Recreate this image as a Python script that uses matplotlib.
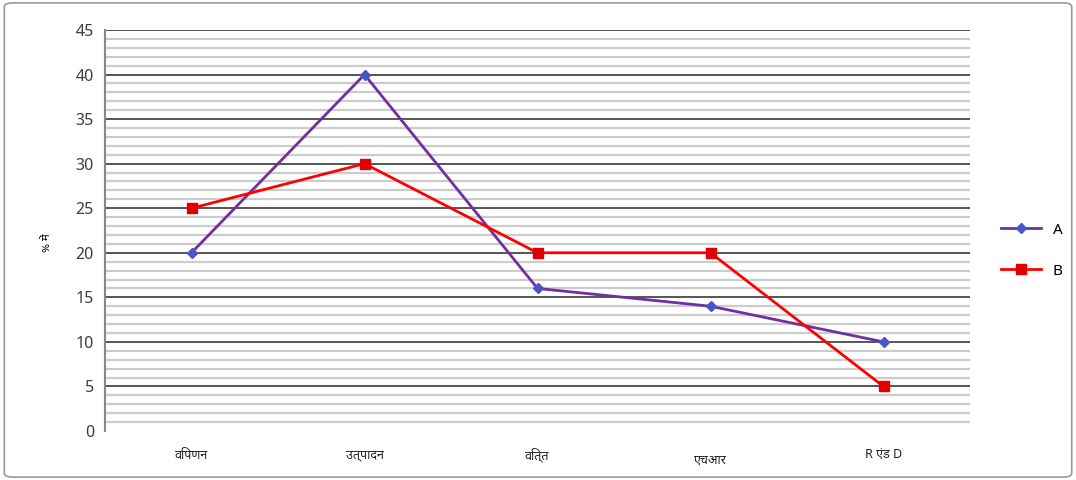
import matplotlib

matplotlib.use("Agg")
import matplotlib.pyplot as plt
from matplotlib import font_manager
from matplotlib.patches import FancyBboxPatch

categories = ["विपणन", "उत्पादन", "वित्त", "एचआर", "R एंड D"]
series_a = [20, 40, 16, 14, 10]
series_b = [25, 30, 20, 20, 5]
y_ticks = list(range(0, 50, 5))

# pick a font that can draw Devanagari, if one is installed
names = {f.name for f in font_manager.fontManager.ttflist}
deva = [n for n in ["Noto Sans Devanagari", "Lohit Devanagari", "Mangal", "FreeSans", "Noto Sans"] if n in names]
plt.rcParams["font.family"] = deva + ["DejaVu Sans"]

fig = plt.figure(figsize=(10.76, 4.8), dpi=100)
fig.patches.append(FancyBboxPatch((0.004, 0.006), 0.992, 0.988, boxstyle="round,pad=0,rounding_size=0.008",
                                  transform=fig.transFigure, fill=False, edgecolor="#9a9a9a", linewidth=1.2))
ax = fig.add_axes([105 / 1076, 1 - 431 / 480, 865 / 1076, 401 / 480])

x = list(range(len(categories)))
ax.set_xlim(-0.5, len(categories) - 0.5)
ax.set_ylim(0, 45)

# minor grid every 1, major every 5
for v in range(1, 45):
    if v % 5:
        ax.axhline(v, color="#cccccc", linewidth=1.6, zorder=0)
for v in y_ticks[1:]:
    ax.axhline(v, color="#555555", linewidth=1.4, zorder=1)

ax.plot(x, series_a, color="#7030a0", linewidth=2, marker="D", markersize=5,
        markerfacecolor="#4a55c8", markeredgecolor="#4a55c8", label="A", zorder=3)
ax.plot(x, series_b, color="#ff0000", linewidth=2, marker="s", markersize=7,
        markerfacecolor="#e00000", markeredgecolor="#e00000", label="B", zorder=3)

ax.set_yticks(y_ticks)
ax.set_xticks(x)
ax.set_xticklabels([])
# category labels drawn by hand, the HR one sits a little lower in the original
for i, name in enumerate(categories):
    drop = 0.013 if i == 3 else 0.0
    ax.text(i, -0.06 - drop, name, transform=ax.get_xaxis_transform(), ha="center", va="center",
            fontsize=9, color="#222222")
ax.tick_params(axis="y", labelsize=12, colors="#404040", length=0, pad=8)
ax.tick_params(axis="x", length=0)
for side in ["top", "right", "bottom"]:
    ax.spines[side].set_visible(False)
ax.spines["left"].set_color("#888888")
ax.spines["left"].set_linewidth(1.5)

fig.text(47 / 1076, 1 - 243 / 480, "% में", rotation=90, fontsize=8, ha="center", va="center")

ax.legend(loc="center left", bbox_to_anchor=(1.02, 0.45), frameon=False, fontsize=11,
          handlelength=2.6, labelspacing=1.7)

fig.savefig("out.png", dpi=100)
